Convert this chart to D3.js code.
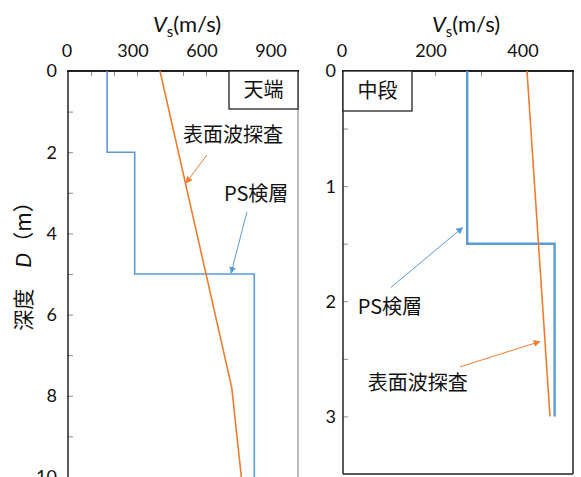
<!DOCTYPE html>
<html>
<head>
<meta charset="utf-8">
<script src="https://cdn.jsdelivr.net/npm/d3@7/dist/d3.min.js"></script>
<style>
  html, body { margin: 0; padding: 0; background: #fff; }
  svg { display: block; }
  .num { font-family: Lato, "Noto Sans", sans-serif; }
  .jp { font-family: "Noto Sans CJK JP", sans-serif; }
</style>
</head>
<body>
<svg id="chart" width="581" height="477"></svg>
<script>
// ---- Crest (天端) profile ----
const crestPsTop    = [0, 2, 5];
const crestPsBottom = [2, 5, 10.6];
const crestPsVs     = [170, 290, 810];
const crestSwDepth  = [0, 7.8, 10.6];
const crestSwVs     = [400, 712, 765];
const crestVsTicks  = [0, 300, 600, 900];
const crestDepthTicks = [0, 2, 4, 6, 8, 10];

// ---- Middle berm (中段) profile ----
const midPsTop    = [0, 1.5];
const midPsBottom = [1.5, 3];
const midPsVs     = [270, 460];
const midSwDepth  = [0, 3];
const midSwVs     = [400, 450];
const midVsTicks  = [0, 200, 400];
const midDepthTicks = [0, 1, 2, 3];

const BLUE = "#5b9bd5", ORANGE = "#ed7d31";

const svg = d3.select("#chart");

// arrow heads
const defs = svg.append("defs");
[["arrowBlue", BLUE], ["arrowOrange", ORANGE]].forEach(([id, c]) => {
  defs.append("marker").attr("id", id)
    .attr("viewBox", "0 0 10 10").attr("refX", 9).attr("refY", 5)
    .attr("markerWidth", 7).attr("markerHeight", 7).attr("orient", "auto")
    .attr("markerUnits", "userSpaceOnUse")
    .append("path").attr("d", "M0,0 L10,5 L0,10 Z").attr("fill", c);
});

function stepPoints(tops, bottoms, vs) {
  const pts = [];
  tops.forEach((t, i) => { pts.push([vs[i], t]); pts.push([vs[i], bottoms[i]]); });
  return pts;
}

function panel(cfg) {
  const { x, y, g } = cfg;
  const x0 = x.range()[0], x1 = x.range()[1];
  const y0 = y.range()[0], yb = cfg.bottomPx;

  // plot frame
  g.append("line").attr("x1", x1).attr("x2", x1).attr("y1", y0).attr("y2", yb)
    .attr("stroke", cfg.rightColor).attr("stroke-width", cfg.rightWidth);
  if (cfg.drawBottom) {
    g.append("line").attr("x1", x0).attr("x2", x1).attr("y1", yb).attr("y2", yb)
      .attr("stroke", "#222").attr("stroke-width", 1.5);
  }

  // top axis (Vs)
  const xAxis = d3.axisTop(x).tickValues(cfg.vsMinor).tickSize(-5).tickFormat("");
  const gx = g.append("g").attr("transform", `translate(0,${y0})`).call(xAxis);
  gx.select(".domain").remove();
  gx.selectAll(".tick line").attr("stroke", "#8a8a8a");
  g.selectAll(null).data(cfg.vsTicks).join("text")
    .attr("class", "num").attr("x", d => x(d) - (d === 0 ? 1 : 4)).attr("y", 57)
    .attr("text-anchor", "middle").attr("font-size", 18).attr("fill", "#111")
    .text(d => d);

  // left axis (depth)
  const yAxis = d3.axisLeft(y).tickValues(cfg.depthMinor).tickSize(-5).tickFormat("");
  const gy = g.append("g").attr("transform", `translate(${x0},0)`).call(yAxis);
  gy.select(".domain").remove();
  gy.selectAll(".tick line").attr("stroke", "#8a8a8a");
  g.selectAll(null).data(cfg.depthTicks).join("text")
    .attr("class", "num").attr("x", cfg.depthLabelX).attr("y", d => y(d))
    .attr("dy", "0.36em").attr("text-anchor", "end").attr("font-size", 18).attr("fill", "#111")
    .text(d => d);

  g.append("line").attr("x1", x0).attr("x2", x0).attr("y1", y0 - 1).attr("y2", yb)
    .attr("stroke", "#222").attr("stroke-width", 1.5);
  g.append("line").attr("x1", x0 - 1).attr("x2", x1 + 1).attr("y1", y0).attr("y2", y0)
    .attr("stroke", "#222").attr("stroke-width", 2);

  // Vs title
  const t = g.append("text").attr("x", cfg.titleX).attr("y", 32)
    .attr("text-anchor", "middle").attr("class", "num").attr("font-size", 22).attr("fill", "#111");
  t.append("tspan").attr("font-style", "italic").text("V");
  t.append("tspan").attr("font-size", 15).attr("dy", 5).text("s");
  t.append("tspan").attr("dy", -5).text("(m/s)");

  const line = d3.line().x(d => x(d[0])).y(d => y(d[1]));

  // PS logging step profile
  g.append("path").datum(stepPoints(cfg.psTop, cfg.psBottom, cfg.psVs))
    .attr("d", line).attr("fill", "none").attr("stroke", BLUE)
    .attr("stroke-width", cfg.psWidth);

  // surface-wave profile
  g.append("path").datum(cfg.swDepth.map((dd, i) => [cfg.swVs[i], dd]))
    .attr("d", line).attr("fill", "none").attr("stroke", ORANGE).attr("stroke-width", 1.6);

  // site label box
  const b = cfg.box;
  g.append("rect").attr("x", b.x0).attr("y", y0).attr("width", b.x1 - b.x0).attr("height", b.h)
    .attr("fill", "#fff").attr("stroke", "#222").attr("stroke-width", 1.3);
  g.append("text").attr("class", "jp").attr("x", (b.x0 + b.x1) / 2).attr("y", y0 + b.h / 2)
    .attr("dy", "0.36em").attr("text-anchor", "middle").attr("font-size", 20).attr("fill", "#111")
    .text(b.label);

  // annotations
  cfg.notes.forEach(n => {
    g.append("text").attr("class", "jp").attr("x", x(n.tx)).attr("y", y(n.ty))
      .attr("font-size", 20).attr("fill", "#111").text(n.text);
    g.append("line")
      .attr("x1", x(n.from[0])).attr("y1", y(n.from[1]))
      .attr("x2", x(n.to[0])).attr("y2", y(n.to[1]))
      .attr("stroke", n.color).attr("stroke-width", 1)
      .attr("marker-end", `url(#${n.color === BLUE ? "arrowBlue" : "arrowOrange"})`);
  });
}

// crest panel
const xL = d3.scaleLinear([0, 1000], [68, 298]);
const yL = d3.scaleLinear([0, 10], [71, 477]);
panel({
  g: svg.append("g"), x: xL, y: yL, bottomPx: yL(10.6), drawBottom: false,
  rightColor: "#a6a6a6", rightWidth: 1.5,
  vsTicks: crestVsTicks, vsMinor: d3.range(100, 1000, 100),
  depthTicks: crestDepthTicks, depthMinor: d3.range(1, 11, 1), depthLabelX: 57,
  titleX: 187,
  psTop: crestPsTop, psBottom: crestPsBottom, psVs: crestPsVs, psWidth: 1.6,
  swDepth: crestSwDepth, swVs: crestSwVs,
  box: { x0: 229, x1: 298, h: 38, label: "天端" },
  notes: [
    { text: "表面波探査", tx: 500, ty: 1.75, from: [604, 2.07], to: [513, 2.76], color: ORANGE },
    { text: "PS検層", tx: 678, ty: 3.2, from: [778, 3.47], to: [709, 4.98], color: BLUE }
  ]
});

// middle berm panel
const xR = d3.scaleLinear([0, 500], [343, 573]);
const yR = d3.scaleLinear([0, 3.5], [71, 474]);
panel({
  g: svg.append("g"), x: xR, y: yR, bottomPx: yR(3.5), drawBottom: true,
  rightColor: "#222", rightWidth: 1.5,
  vsTicks: midVsTicks, vsMinor: d3.range(100, 500, 100),
  depthTicks: midDepthTicks, depthMinor: d3.range(0.5, 3.5, 0.5), depthLabelX: 336,
  titleX: 466,
  psTop: midPsTop, psBottom: midPsBottom, psVs: midPsVs, psWidth: 2.4,
  swDepth: midSwDepth, swVs: midSwVs,
  box: { x0: 343, x1: 412, h: 40, label: "中段" },
  notes: [
    { text: "PS検層", tx: 32, ty: 2.11, from: [104, 1.88], to: [260, 1.36], color: BLUE },
    { text: "表面波探査", tx: 54, ty: 2.77, from: [254, 2.57], to: [428, 2.35], color: ORANGE }
  ]
});

// depth axis title
const yt = svg.append("text").attr("transform", "translate(31,261) rotate(-90)")
  .attr("text-anchor", "middle").attr("font-size", 21).attr("fill", "#111");
yt.append("tspan").attr("class", "jp").text("深度\u3000");
yt.append("tspan").attr("class", "num").attr("font-style", "italic").text("D");
yt.append("tspan").attr("class", "jp").text("（m）");
</script>
</body>
</html>
